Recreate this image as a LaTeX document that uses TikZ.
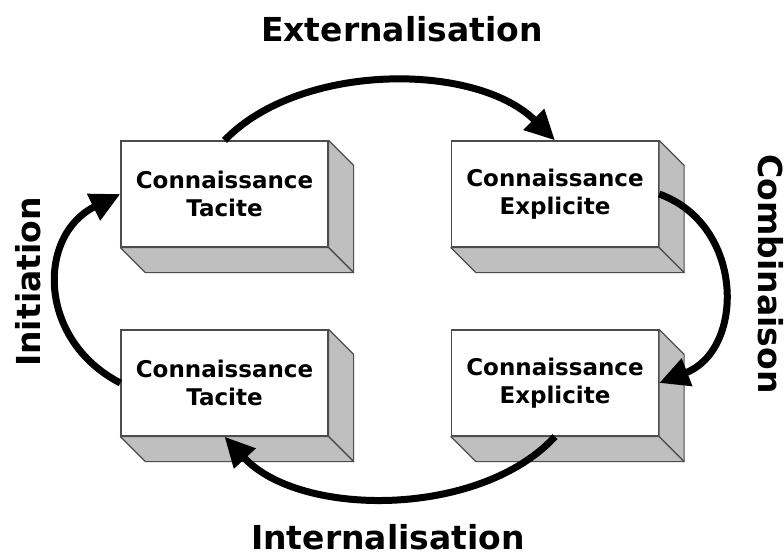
\documentclass[tikz,border=0pt]{standalone}
\usepackage{fontspec}
\setmainfont{DejaVu Sans}
\usetikzlibrary{arrows.meta}

\begin{document}
\begin{tikzpicture}[x=1pt,y=-1pt,
  block/.style={draw=black!70,line width=1.2pt,fill=white,
    minimum width=207pt,minimum height=106pt,align=center,
    font=\fontsize{23}{28}\selectfont\bfseries},
  face/.style={draw=black!70,line width=1.2pt,fill=black!25,line join=round},
  cycle arrow/.style={line width=7pt,-{Triangle[length=30pt,width=28pt]}},
  phase/.style={font=\fontsize{33}{40}\selectfont\bfseries,anchor=base}]
  \useasboundingbox (0,0) rectangle (784,556);
  % the four boxes
  \node[block] (tacA) at (224.5,194) {Connaissance\\Tacite};
  \node[block] (expA) at (555,194) {Connaissance\\Explicite};
  \node[block] (expB) at (555,383) {Connaissance\\Explicite};
  \node[block] (tacB) at (224.5,383) {Connaissance\\Tacite};
  \foreach \n in {tacA,expA,expB,tacB} {
    \draw[face] (\n.north east) -- ([shift={(25,25)}]\n.north east)
      -- ([shift={(25,25)}]\n.south east) -- (\n.south east) -- cycle;
    \draw[face] (\n.south west) -- ([shift={(25,25)}]\n.south west)
      -- ([shift={(25,25)}]\n.south east) -- (\n.south east) -- cycle;
  }
  % the cycle
  \draw[cycle arrow] (tacA.north) .. controls (300,62) and (476,62) .. (expA.north);
  \draw[cycle arrow] (expA.east) .. controls (745,225) and (745,350) .. (expB.east);
  \draw[cycle arrow] (expB.south) .. controls (480,518) and (300,518) .. (tacB.south);
  \draw[cycle arrow] (tacB.west) .. controls (37,340) and (37,235) .. (tacA.west);
  % phase names
  \node[phase] (ext) at (402,42) {Externalisation};
  \node[phase] (int) at (388,549) {Internalisation};
  \node[phase,rotate=90] (ini) at (40,282) {Initiation};
  \node[phase,rotate=-90] (com) at (758,274) {Combinaison};
\end{tikzpicture}
\end{document}
